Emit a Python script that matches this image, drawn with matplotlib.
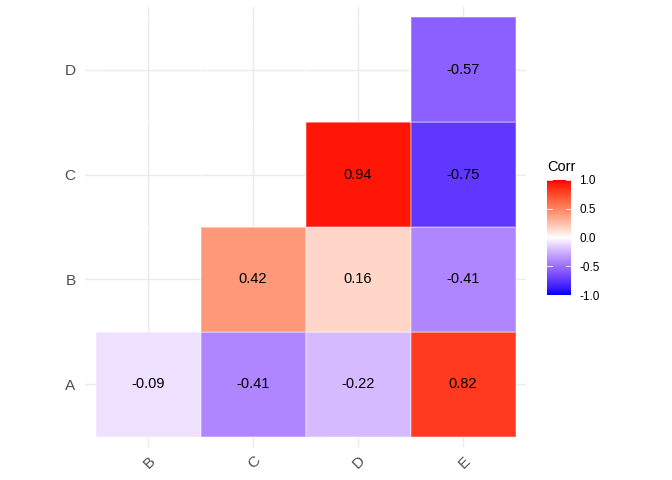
import numpy as np
import matplotlib
matplotlib.use("Agg")
import matplotlib.pyplot as plt
from matplotlib.colors import ListedColormap, Normalize

plt.rcParams['font.family'] = ['Liberation Sans', 'DejaVu Sans']

x_labels = ["B", "C", "D", "E"]
y_labels = ["A", "B", "C", "D"]
# rows = y (A..D), cols = x (B..E); None = empty cell
corr_values = [
    [-0.09, -0.41, -0.22, 0.82],
    [None, 0.42, 0.16, -0.41],
    [None, None, 0.94, -0.75],
    [None, None, None, -0.57],
]

# ---- Lab interpolation ----
def srgb_to_lab(rgb):
    c = np.asarray(rgb, float)
    lin = np.where(c <= 0.04045, c / 12.92, ((c + 0.055) / 1.055) ** 2.4)
    M = np.array([[0.4124564, 0.3575761, 0.1804375],
                  [0.2126729, 0.7151522, 0.0721750],
                  [0.0193339, 0.1191920, 0.9503041]])
    xyz = M @ lin
    wp = np.array([0.95047, 1.0, 1.08883])
    t = xyz / wp
    d = 6 / 29
    f = np.where(t > d ** 3, np.cbrt(t), t / (3 * d * d) + 4 / 29)
    return np.array([116 * f[1] - 16, 500 * (f[0] - f[1]), 200 * (f[1] - f[2])])

def lab_to_srgb(lab):
    L, a, b = lab
    fy = (L + 16) / 116
    fx = fy + a / 500
    fz = fy - b / 200
    d = 6 / 29
    def finv(f):
        return np.where(f > d, f ** 3, 3 * d * d * (f - 4 / 29))
    wp = np.array([0.95047, 1.0, 1.08883])
    xyz = np.array([finv(fx), finv(fy), finv(fz)]) * wp
    Minv = np.array([[3.2404542, -1.5371385, -0.4985314],
                     [-0.9692660, 1.8760108, 0.0415560],
                     [0.0556434, -0.2040259, 1.0572252]])
    lin = Minv @ xyz
    lin = np.clip(lin, 0, 1)
    c = np.where(lin <= 0.0031308, 12.92 * lin, 1.055 * lin ** (1 / 2.4) - 0.055)
    return np.clip(c, 0, 1)

blue = srgb_to_lab([0, 0, 1])
white = srgb_to_lab([1, 1, 1])
red = srgb_to_lab([1, 0, 0])
cols = []
for v in np.linspace(-1, 1, 512):
    t = 1 - (1 - abs(v)) ** 1.4
    end = blue if v < 0 else red
    lab = white + (end - white) * t
    cols.append(lab_to_srgb(lab))
cmap = ListedColormap(cols)
norm = Normalize(-1, 1)

fig = plt.figure(figsize=(7, 5), dpi=96)
ax = fig.add_axes([85 / 672, 33 / 480, 441 / 672, 440 / 480])

data = np.ma.masked_invalid(np.array([[np.nan if v is None else v for v in row] for row in corr_values], float))
xe = np.arange(len(x_labels) + 1) - 0.5
ye = np.arange(len(y_labels) + 1) - 0.5
ax.pcolormesh(xe, ye, data, cmap=cmap, norm=norm, edgecolors='#FFFFFF40', linewidth=0.25, zorder=2)

for i, row in enumerate(corr_values):
    for j, v in enumerate(row):
        if v is not None:
            ax.text(j, i, f"{v:.2f}", ha='center', va='center', fontsize=11, color='black', zorder=3)

ax.set_xlim(-0.6, len(x_labels) - 0.4)
ax.set_ylim(-0.6, len(y_labels) - 0.4)
ax.set_xticks(range(len(x_labels)))
ax.set_xticklabels(x_labels, rotation=45, ha='right', va='top', rotation_mode='anchor')
ax.set_yticks(range(len(y_labels)))
ax.set_yticklabels(y_labels)
ax.tick_params(length=0, labelsize=11.5, labelcolor='#4D4D4D')
ax.tick_params(axis='y', pad=7)
ax.tick_params(axis='x', pad=5)
for s in ax.spines.values():
    s.set_visible(False)
ax.grid(True, color='#EBEBEB', linewidth=1.1, zorder=0)
ax.set_axisbelow(True)

# colorbar
cax = fig.add_axes([547 / 672, 185 / 480, 24 / 672, 115 / 480])
grad = np.linspace(-1, 1, 300).reshape(-1, 1)
cax.imshow(grad, cmap=cmap, norm=norm, aspect='auto', origin='lower', extent=[0, 1, -1, 1])
cax.set_xlim(0, 1)
cax.set_ylim(-1, 1)
cax.set_xticks([])
ticks = [-1.0, -0.5, 0.0, 0.5, 1.0]
for t in ticks:
    cax.plot([0, 0.2], [t, t], color='white', lw=0.6)
    cax.plot([0.8, 1], [t, t], color='white', lw=0.6)
cax.yaxis.tick_right()
cax.set_yticks(ticks)
cax.set_yticklabels([f"{t:.1f}" for t in ticks])
cax.tick_params(length=0, labelsize=8.8, pad=6, labelcolor='black')
for s in cax.spines.values():
    s.set_visible(False)
fig.text(547 / 672, 1 - 167 / 480, "Corr", fontsize=11, ha='left', va='center')

fig.savefig("out.png", dpi=96)
